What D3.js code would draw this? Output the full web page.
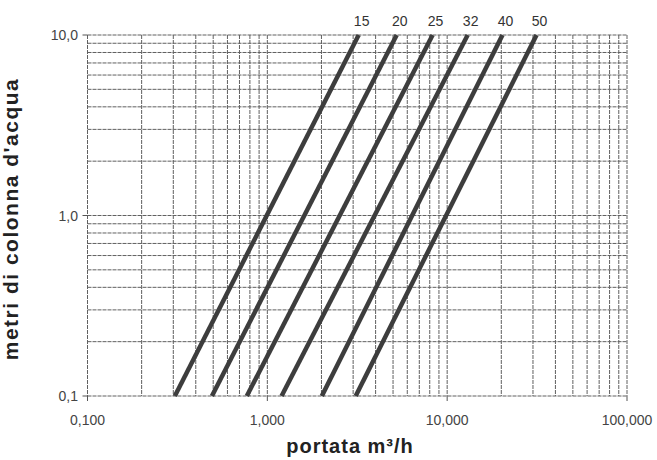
<!DOCTYPE html>
<html>
<head>
<meta charset="utf-8">
<script src="https://cdn.jsdelivr.net/npm/d3@7"></script>
<style>
  body { margin: 0; background: #fff; }
  svg { font-family: "Liberation Sans", Arial, sans-serif; }
</style>
</head>
<body>
<svg width="657" height="460"></svg>
<script>
// pipe sizes and flow (m3/h) read at 0,1 m and at 10 m head
const sizes = ["15", "20", "25", "32", "40", "50"];
const flowAtLow = [0.306, 0.492, 0.769, 1.20, 2.01, 3.10];
const flowAtHigh = [3.22, 5.24, 8.30, 13.0, 20.3, 31.4];
const heads = [0.1, 10];

const xTicks = [0.1, 1, 10, 100];
const yTicks = [0.1, 1, 10];

const svg = d3.select("svg");
const it = d3.formatLocale({ decimal: ",", thousands: ".", grouping: [3], currency: ["", ""] });

const x = d3.scaleLog().domain([0.1, 100]).range([87.5, 627]);
const y = d3.scaleLog().domain([0.1, 10]).range([396, 35]);

// minor grid: every 1..9 of each decade
const xGrid = [], yGrid = [];
[0.1, 1, 10].forEach(d => { for (let k = 1; k <= 9; k++) xGrid.push(+(d * k).toPrecision(3)); });
xGrid.push(100);
[0.1, 1].forEach(d => { for (let k = 1; k <= 9; k++) yGrid.push(+(d * k).toPrecision(3)); });
yGrid.push(10);

const grid = svg.append("g")
  .attr("stroke", "#3a3a3a")
  .attr("stroke-width", 1)
  .attr("stroke-dasharray", "4,1")
  .attr("opacity", 0.8);

grid.selectAll(".vx")
  .data(xGrid)
  .join("line")
  .attr("x1", d => x(d)).attr("x2", d => x(d))
  .attr("y1", y(10)).attr("y2", y(0.1));

grid.selectAll(".hy")
  .data(yGrid)
  .join("line")
  .attr("y1", d => y(d)).attr("y2", d => y(d))
  .attr("x1", x(0.1)).attr("x2", x(100));

// small tick marks at the decades
svg.append("g")
  .attr("stroke", "#555")
  .attr("stroke-width", 1)
  .selectAll("line")
  .data(xTicks)
  .join("line")
  .attr("x1", d => x(d)).attr("x2", d => x(d))
  .attr("y1", y(0.1)).attr("y2", y(0.1) + 5);

svg.append("g")
  .attr("stroke", "#555")
  .attr("stroke-width", 1)
  .selectAll("line")
  .data(yTicks)
  .join("line")
  .attr("y1", d => y(d)).attr("y2", d => y(d))
  .attr("x1", x(0.1) - 5).attr("x2", x(0.1));

// tick labels
svg.append("g")
  .selectAll("text")
  .data(xTicks)
  .join("text")
  .attr("x", d => x(d))
  .attr("y", 425)
  .attr("text-anchor", "middle")
  .attr("font-size", 14)
  .attr("fill", "#444")
  .text(d => it.format(".3f")(d));

svg.append("g")
  .selectAll("text")
  .data(yTicks)
  .join("text")
  .attr("x", 78)
  .attr("y", d => y(d) + 5)
  .attr("text-anchor", "end")
  .attr("font-size", 14)
  .attr("fill", "#444")
  .text(d => it.format(".1f")(d));

// loss curves
const line = d3.line()
  .x(d => x(d[0]))
  .y(d => y(d[1]));

const curves = sizes.map((s, i) => [[flowAtLow[i], heads[0]], [flowAtHigh[i], heads[1]]]);

svg.append("g")
  .selectAll("path")
  .data(curves)
  .join("path")
  .attr("d", line)
  .attr("fill", "none")
  .attr("stroke", "#3d3d3d")
  .attr("stroke-width", 4.5);

svg.append("g")
  .selectAll("text")
  .data(sizes)
  .join("text")
  .attr("x", (d, i) => x(flowAtHigh[i]) + 3)
  .attr("y", 26)
  .attr("text-anchor", "middle")
  .attr("font-size", 14)
  .attr("fill", "#333")
  .text(d => d);

// axis titles
svg.append("text")
  .attr("x", 350)
  .attr("y", 453)
  .attr("text-anchor", "middle")
  .attr("font-size", 20)
  .attr("font-weight", "bold")
  .attr("letter-spacing", 1)
  .attr("fill", "#222")
  .text("portata m³/h");

svg.append("text")
  .attr("transform", "translate(18,219) rotate(-90)")
  .attr("text-anchor", "middle")
  .attr("font-size", 21)
  .attr("font-weight", "bold")
  .attr("letter-spacing", 1.5)
  .attr("fill", "#222")
  .text("metri di colonna d'acqua");
</script>
</body>
</html>
